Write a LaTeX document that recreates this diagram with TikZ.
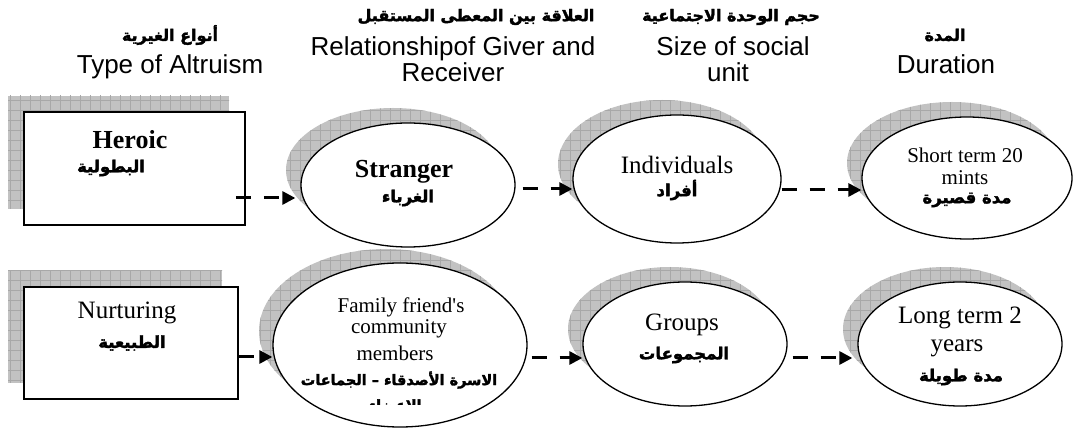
\documentclass[tikz,border=0pt]{standalone}
\usepackage{fontspec}
\setmainfont{Liberation Serif}
\newfontfamily\hfont{Liberation Sans}
\newfontfamily\arabicfont[Script=Arabic,FakeBold=2.2]{DejaVu Sans Bold}
\TeXXeTstate=1
\usetikzlibrary{arrows.meta,shapes.geometric}
\newcommand\gridshadow[1]{\fill[shadowfill] #1; \begin{scope}\clip #1; \draw[gridline,step=10pt] (0,0) grid (1090,435);\end{scope}}
\begin{document}
\begin{tikzpicture}[x=1pt,y=-1pt,
  shadowfill/.style={fill=black!24},
  gridline/.style={draw=black!34,line width=0.45pt},
  boxnode/.style={draw,line width=1.6pt,fill=white,rectangle,inner sep=0pt},
  ellnode/.style={draw,line width=1.3pt,fill=white,ellipse,inner sep=0pt},
  conn/.style={line width=3pt,dash pattern=on 15pt off 13pt,-{Triangle[length=13pt,width=13pt]}},
  hdr/.style={font=\hfont\fontsize{26}{30}\selectfont,inner sep=0pt,anchor=base},
  txt/.style={inner sep=0pt},
  arh/.style={txt,font=\arabicfont\fontsize{16}{16}\selectfont},
  arn/.style={txt,font=\arabicfont\fontsize{16.5}{16.5}\selectfont},
  ars/.style={txt,font=\arabicfont\fontsize{14.5}{14.5}\selectfont},
  big/.style={txt,font=\fontsize{25}{28}\selectfont},
  bigb/.style={txt,font=\bfseries\fontsize{26}{30}\selectfont},
  mid/.style={txt,font=\fontsize{21}{24}\selectfont},
]
\useasboundingbox (0,0) rectangle (1090,435);

% headers
\node[arh] (h1a) at (170,35) {\beginR أنواع الغيرية\endR};
\node[hdr] (h1) at (170,74) {Type of Altruism};
\node[arh] (h2a) at (476,17) {\beginR العلاقة بين المعطى المستقبل\endR};
\node[hdr] (h2) at (453,56) {Relationshipof Giver and};
\node[hdr] (h2b) at (453,82) {Receiver};
\node[arh] (h3a) at (731,17) {\beginR حجم الوحدة الاجتماعية\endR};
\node[hdr] (h3) at (733,56) {Size of social};
\node[hdr] (h3b) at (728,82) {unit};
\node[arh] (h4a) at (945,35) {\beginR المدة\endR};
\node[hdr] (h4) at (946,74) {Duration};

% shadows
\gridshadow{(8,96) rectangle (229,209)}
\gridshadow{(8,271) rectangle (222,383)}
\gridshadow{(393,170) ellipse [x radius=107pt,y radius=62pt]}
\gridshadow{(662,164) ellipse [x radius=104pt,y radius=64pt]}
\gridshadow{(952,163) ellipse [x radius=105pt,y radius=61pt]}
\gridshadow{(386,331) ellipse [x radius=127pt,y radius=82pt]}
\gridshadow{(670,329) ellipse [x radius=102pt,y radius=62pt]}
\gridshadow{(945,329) ellipse [x radius=102pt,y radius=62pt]}

% shapes
\node[boxnode,minimum width=221pt,minimum height=113pt] (heroic) at (134.5,168.5) {};
\node[boxnode,minimum width=214pt,minimum height=112pt] (nurturing) at (131,343) {};
\node[ellnode,minimum width=214pt,minimum height=124pt] (stranger) at (408,185) {};
\node[ellnode,minimum width=208pt,minimum height=128pt] (individuals) at (677,179) {};
\node[ellnode,minimum width=210pt,minimum height=122pt] (short) at (967,178) {};
\node[ellnode,minimum width=254pt,minimum height=164pt] (family) at (400,345) {};
\node[ellnode,minimum width=204pt,minimum height=124pt] (groups) at (685,344) {};
\node[ellnode,minimum width=204pt,minimum height=124pt] (long) at (960,344) {};

% texts
\node[bigb] (heroicT) at (130,140) {Heroic};
\node[arn] (heroicA) at (111,168) {\beginR البطولية\endR};
\node[bigb] (strangerT) at (404,172) {Stranger};
\node[arn] (strangerA) at (408,198) {\beginR الغرباء\endR};
\node[big] (indT) at (677,165) {Individuals};
\node[arn] (indA) at (677,190) {\beginR أفراد\endR};
\node[mid] (shortT) at (965,155) {Short term 20};
\node[mid] (shortT2) at (965,178) {mints};
\node[arn] (shortA) at (967,200) {\beginR مدة قصيرة\endR};
\node[big] (nurtT) at (127,313) {Nurturing};
\node[arn] (nurtA) at (132,343) {\beginR الطبيعية\endR};
\node[mid] (famT1) at (401,307) {Family friend\textquotesingle s};
\node[mid] (famT2) at (399,329) {community};
\node[mid] (famT3) at (395,353) {members};
\node[ars] (famA1) at (399,380) {\beginR الاسرة الأصدقاء – الجماعات\endR};
\begin{scope}
\clip (0,0) rectangle (1090,405);
\node[ars] (famA2) at (389,405) {\beginR الاعضاء –\endR};
\end{scope}
\node[big] (groupsT) at (682,325) {Groups};
\node[arn] (groupsA) at (684,355) {\beginR المجموعات\endR};
\node[big] (longT) at (960,318) {Long term 2};
\node[big] (longT2) at (957,348) {years};
\node[arn] (longA) at (961,377) {\beginR مدة طويلة\endR};

% connectors
\draw[conn] ([xshift=-10pt]heroic.east |- 0,198) -- ([xshift=-5pt]stranger.west |- 0,198);
\draw[conn] ([xshift=7pt]stranger.east |- 0,189) -- (individuals.west |- 0,189);
\draw[conn] (individuals.east |- 0,190) -- (short.west |- 0,190);
\draw[conn] (nurturing.east |- 0,357) -- (family.west |- 0,357);
\draw[conn] ([xshift=4pt]family.east |- 0,358) -- (groups.west |- 0,358);
\draw[conn] ([xshift=5pt]groups.east |- 0,358) -- ([xshift=-5pt]long.west |- 0,358);
\end{tikzpicture}
\end{document}
